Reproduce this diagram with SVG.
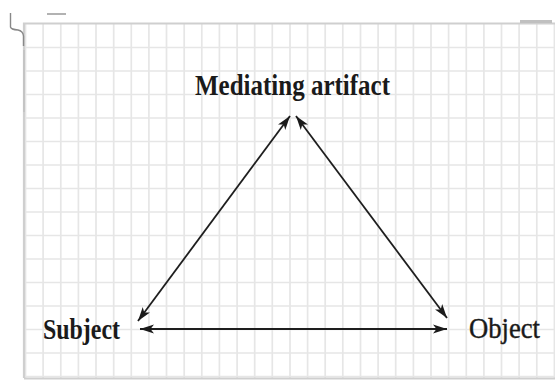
<svg xmlns="http://www.w3.org/2000/svg" width="555" height="381" viewBox="0 0 555 381">
  <style>
    .grid { stroke: #e6e6e6; stroke-width: 1.7; fill: none; }
    .frame { stroke: #cfcfcf; stroke-width: 2.2; fill: none; }
    .conn { stroke: #1e1e1e; stroke-width: 1.8; fill: none; marker-start: url(#ah); marker-end: url(#ah); }
    .lbl { font-family: "Liberation Serif", "Times New Roman", serif; font-size: 29px; fill: #1a1a1a; }
  </style>
  <defs>
    <marker id="ah" markerUnits="userSpaceOnUse" markerWidth="15" markerHeight="11" viewBox="0 0 15 11" refX="14" refY="5.5" orient="auto-start-reverse">
      <path d="M0,1 L14,5.5 L0,10 L3.5,5.5 z" fill="#1a1a1a"/>
    </marker>
  </defs>
  <rect width="555" height="381" fill="#ffffff"/>
  <g id="grid">
    <path class="grid" d="M25.5,23V378 M43.1,23V378 M60.8,23V378 M78.4,23V378 M96,23V378 M113.7,23V378 M131.3,23V378 M148.9,23V378 M166.5,23V378 M184.2,23V378 M201.8,23V378 M219.4,23V378 M237.1,23V378 M254.7,23V378 M272.3,23V378 M290,23V378 M307.6,23V378 M325.2,23V378 M342.8,23V378 M360.5,23V378 M378.1,23V378 M395.7,23V378 M413.4,23V378 M431,23V378 M448.6,23V378 M466.3,23V378 M483.9,23V378 M501.5,23V378 M519.1,23V378 M536.8,23V378 M554.4,23V378"/>
    <path class="grid" d="M24,47.5H555 M24,71H555 M24,94.5H555 M24,118H555 M24,141.5H555 M24,165H555 M24,188.5H555 M24,212H555 M24,235.5H555 M24,259H555 M24,282.5H555 M24,306H555 M24,329.5H555 M24,353H555 M24,376.5H555"/>
    <path class="frame" d="M24,378V23.5H555 M24,378.5H555"/>
    <path d="M24,50V112" stroke="#c4c4c4" stroke-width="2" fill="none"/>
    <path d="M520,21.5H552" stroke="#c0c0c0" stroke-width="3" fill="none"/>
    <path d="M10.5,13V27 Q11,29.5 18,30 Q23,31 23.5,36 V46" stroke="#888" stroke-width="1.4" fill="none"/>
    <path d="M47,14H66" stroke="#999" stroke-width="1.5" fill="none"/>
  </g>
  <g id="connectors">
    <line class="conn" x1="138" y1="321" x2="290" y2="116"/>
    <line class="conn" x1="296" y1="116" x2="447" y2="318"/>
    <line class="conn" x1="140" y1="329" x2="447" y2="329"/>
  </g>
  <g id="mediating-artifact">
    <text class="lbl" x="195" y="95" textLength="195" lengthAdjust="spacingAndGlyphs" font-weight="bold">Mediating artifact</text>
  </g>
  <g id="subject">
    <text class="lbl" x="43" y="339" textLength="77" lengthAdjust="spacingAndGlyphs" font-weight="bold">Subject</text>
  </g>
  <g id="object">
    <text class="lbl" x="469" y="338" textLength="71" lengthAdjust="spacingAndGlyphs" stroke="#1a1a1a" stroke-width="0.4">Object</text>
  </g>
</svg>
